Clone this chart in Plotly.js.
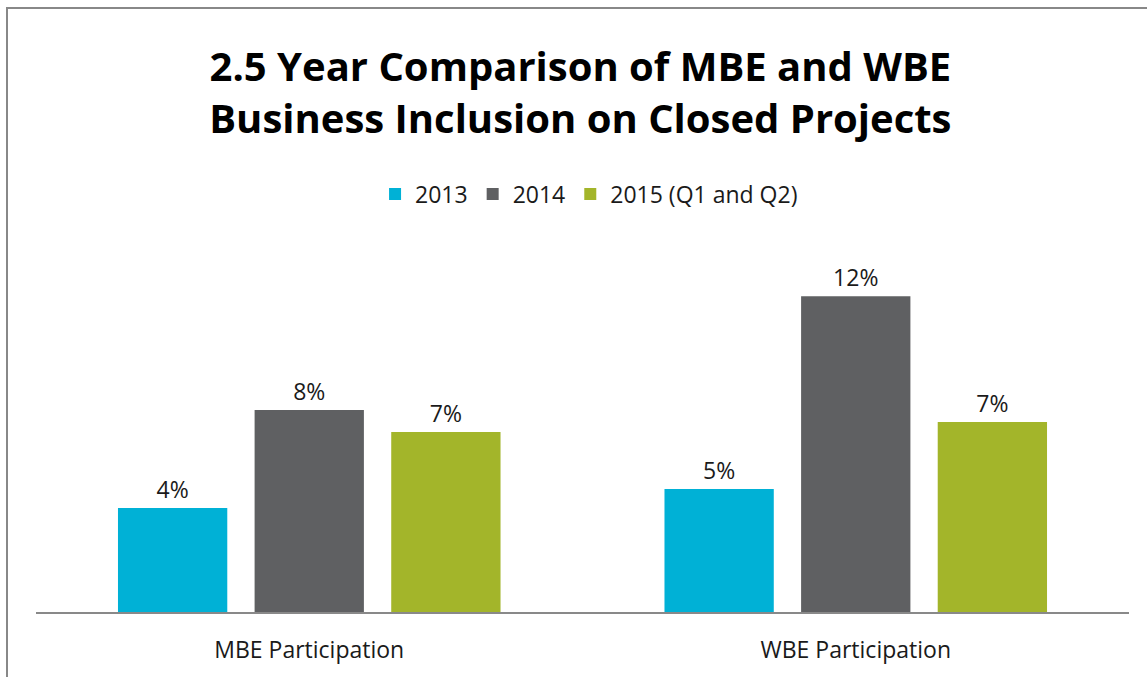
<!DOCTYPE html>
<html>
<head>
<meta charset="utf-8">
<script src="https://cdn.plot.ly/plotly-3.0.1.min.js"></script>
<style>
  body { margin: 0; background: #fff; }
  #chart { width: 1147px; height: 677px; position: absolute; left: 0; top: 0; }
  #frame { position: absolute; left: 6px; top: 7px; width: 1160px; height: 700px;
           border-left: 2px solid #888; border-top: 2px solid #888; pointer-events: none; }
</style>
</head>
<body>
<div id="chart"></div>
<div id="frame"></div>
<script>
const categories = ['MBE Participation', 'WBE Participation'];
const series2013 = [0.0395, 0.0468];
const series2014 = [0.0768, 0.12];
const series2015 = [0.0684, 0.0722];

const textFont = { family: 'Open Sans, sans-serif', size: 23, color: '#1a1a1a' };

function barTrace(name, values, color) {
  return {
    type: 'bar',
    name: name,
    x: categories,
    y: values,
    marker: { color: color },
    texttemplate: '%{y:.0%}',
    textposition: 'outside',
    textfont: textFont,
    cliponaxis: false,
    hoverinfo: 'skip'
  };
}

const traces = [
  barTrace('2013', series2013, '#00B1D6'),
  barTrace('2014', series2014, '#5F6062'),
  barTrace('2015 (Q1 and Q2)', series2015, '#A3B52A')
];

const layout = {
  width: 1147,
  height: 677,
  paper_bgcolor: '#fff',
  plot_bgcolor: '#fff',
  title: {
    text: '<b>2.5 Year Comparison of MBE and WBE<br>Business Inclusion on Closed Projects</b>',
    font: { family: 'Open Sans, sans-serif', size: 40, color: '#000' },
    x: 0.506,
    xanchor: 'center',
    y: 0.881,
    yanchor: 'top'
  },
  showlegend: true,
  legend: {
    orientation: 'h',
    x: 0.506,
    xanchor: 'center',
    y: 0.745,
    yref: 'container',
    yanchor: 'top',
    font: textFont,
    traceorder: 'normal'
  },
  barmode: 'group',
  bargap: 0.25,
  bargroupgap: 0.2,
  margin: { l: 36, r: 18, t: 270, b: 65 },
  xaxis: {
    showline: true,
    linecolor: '#898989',
    linewidth: 2,
    ticks: '',
    ticklabelstandoff: 16,
    tickfont: textFont,
    showgrid: false
  },
  yaxis: {
    range: [0, 0.13],
    visible: false,
    showgrid: false,
    zeroline: false
  }
};

Plotly.newPlot('chart', traces, layout, { displayModeBar: false, staticPlot: true });
</script>
</body>
</html>
